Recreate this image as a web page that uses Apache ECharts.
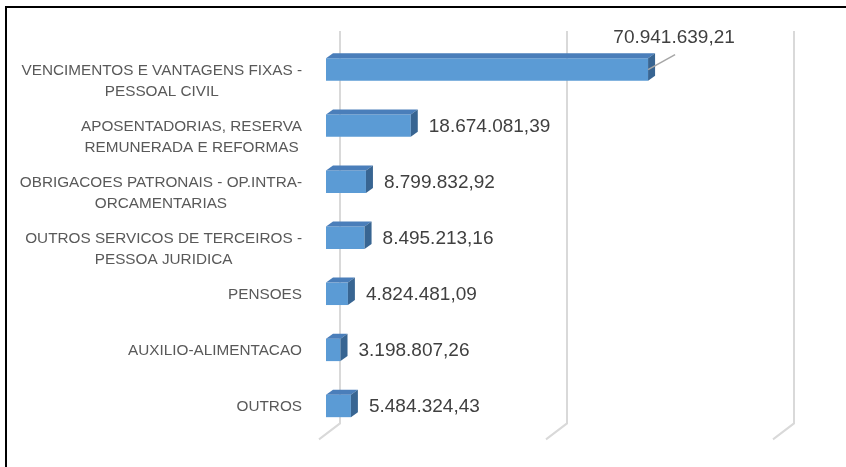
<!DOCTYPE html>
<html>
<head>
<meta charset="utf-8">
<script src="https://cdn.jsdelivr.net/npm/echarts/dist/echarts.min.js"></script>
<style>
  html, body { margin: 0; padding: 0; background: #fff; overflow: hidden; }
  #grafica { position: absolute; left: 0; top: 0; width: 846px; height: 467px; }
  #marco { position: absolute; left: 5px; top: 6px; width: 1000px; height: 1000px;
           border: 2px solid #000; pointer-events: none; }
</style>
</head>
<body>
<div id="grafica"></div>
<div id="marco"></div>
<script>
// datos
var categorias = [
    'VENCIMENTOS E VANTAGENS FIXAS -\nPESSOAL CIVIL',
    'APOSENTADORIAS, RESERVA\nREMUNERADA E REFORMAS',
    'OBRIGACOES PATRONAIS - OP.INTRA-\nORCAMENTARIAS',
    'OUTROS SERVICOS DE TERCEIROS -\nPESSOA JURIDICA',
    'PENSOES',
    'AUXILIO-ALIMENTACAO',
    'OUTROS'
];
var valores = [70941639.21, 18674081.39, 8799832.92, 8495213.16, 4824481.09, 3198807.26, 5484324.43];
var ticks = [0, 50000000, 100000000];

var fonteCat = '15.3px "Liberation Sans", Arial, sans-serif';
var fonteVal = '19px "Liberation Sans", Arial, sans-serif';

// profundidade 3D
var fundoDx = 14, fundoDy = -10.6;   // parede do fundo
var chaoDx = -21, chaoDy = 16;       // chao
var barraDx = 7, barraDy = -5;       // profundidade da barra

var ctxMedida = document.createElement('canvas').getContext('2d');
function larguraTexto(txt, fonte) {
    ctxMedida.font = fonte;
    var linhas = txt.split('\n');
    var w = 0;
    for (var i = 0; i < linhas.length; i++) {
        w = Math.max(w, ctxMedida.measureText(linhas[i]).width);
    }
    return w;
}

function formata(v) {
    var p = v.toFixed(2).split('.');
    return p[0].replace(/\B(?=(\d{3})+(?!\d))/g, '.') + ',' + p[1];
}

var chart = echarts.init(document.getElementById('grafica'), null, {renderer: 'canvas'});

function desenhaParede(params, api) {
    var cs = params.coordSys;
    var x = api.coord([api.value(0), 0])[0];
    var yTopo = cs.y + fundoDy;
    var yBase = cs.y + cs.height + fundoDy;
    return {
        type: 'polyline',
        shape: {points: [[x + fundoDx, yTopo], [x + fundoDx, yBase], [x + fundoDx + chaoDx, yBase + chaoDy]]},
        style: {stroke: '#D9D9D9', lineWidth: 2, fill: null}
    };
}

function desenhaBarra(params, api) {
    var v = api.value(0);
    var i = api.value(1);
    var p0 = api.coord([0, i]);
    var p1 = api.coord([v, i]);
    var h = api.size([0, 1])[1] * 0.4;
    var x0 = p0[0], x1 = p1[0], yc = p0[1];
    var topo = yc - h / 2, base = yc + h / 2;
    var filhos = [
        {type: 'rect', shape: {x: x0, y: topo, width: x1 - x0, height: h},
         style: {fill: '#5B9BD5'}},
        {type: 'polygon', shape: {points: [[x0, topo], [x1, topo], [x1 + barraDx, topo + barraDy], [x0 + barraDx, topo + barraDy]]},
         style: {fill: '#4A7EBA'}},
        {type: 'polygon', shape: {points: [[x1, topo], [x1 + barraDx, topo + barraDy], [x1 + barraDx, base + barraDy], [x1, base]]},
         style: {fill: '#386592'}}
    ];
    // rotulo do valor
    var cs = params.coordSys;
    if (x1 - cs.x > cs.width * 0.6) {
        filhos.push({type: 'line', shape: {x1: x1, y1: yc, x2: x1 + 27, y2: yc - 15},
            style: {stroke: '#A6A6A6', lineWidth: 1.5}});
        filhos.push({type: 'text', style: {text: formata(v), x: x1 + 26, y: topo - 21,
            font: fonteVal, fill: '#404040', align: 'center', verticalAlign: 'middle'}});
    } else {
        filhos.push({type: 'text', style: {text: formata(v), x: x1 + barraDx + 11, y: yc + 1,
            font: fonteVal, fill: '#404040', align: 'left', verticalAlign: 'middle'}});
    }
    // rotulo da categoria
    var cat = categorias[i];
    var w = larguraTexto(cat, fonteCat);
    filhos.push({type: 'text', style: {text: cat, x: x0 - 24 - w / 2, y: yc + 1 - 10.5,
        font: fonteCat, fill: '#595959', align: 'center', verticalAlign: 'top', lineHeight: 21}});
    return {type: 'group', children: filhos};
}

var dadosBarras = [];
for (var i = 0; i < valores.length; i++) {
    dadosBarras.push([valores[i], i]);
}
var dadosParede = [];
for (var j = 0; j < ticks.length; j++) {
    dadosParede.push([ticks[j], 0]);
}

var option = {
    animation: false,
    grid: {left: 326, right: 66, top: 41.5, bottom: 33},
    xAxis: {
        type: 'value', min: 0, max: 100000000, interval: 50000000,
        axisLine: {show: false}, axisTick: {show: false},
        axisLabel: {show: false}, splitLine: {show: false}
    },
    yAxis: {
        type: 'category', data: categorias, inverse: true,
        axisLine: {show: false}, axisTick: {show: false},
        axisLabel: {show: false}, splitLine: {show: false}
    },
    series: [
        {type: 'custom', z: 1, renderItem: desenhaParede, data: dadosParede, silent: true, clip: false},
        {type: 'custom', z: 2, renderItem: desenhaBarra, data: dadosBarras, clip: false}
    ]
};
chart.setOption(option);
</script>
</body>
</html>
